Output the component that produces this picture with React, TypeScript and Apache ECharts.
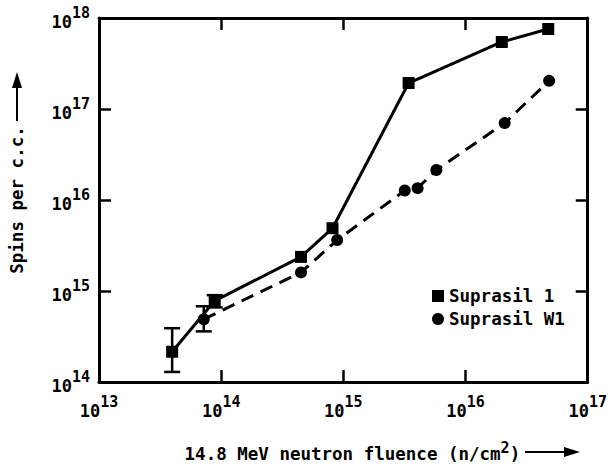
import React, { useEffect, useRef } from "react";
import * as echarts from "echarts";

// Suprasil 1 (squares, solid line)
const s1Fluence = [3.97e13, 8.85e13, 4.5e14, 8.15e14, 3.42e15, 1.98e16, 4.75e16];
const s1Spins = [2.15e14, 7.8e14, 2.37e15, 4.9e15, 1.93e17, 5.45e17, 7.57e17];
// Suprasil W1 (circles, dashed line)
const w1Fluence = [7.2e13, 4.5e14, 8.9e14, 3.18e15, 4.05e15, 5.77e15, 2.09e16, 4.83e16];
const w1Spins = [4.9e14, 1.6e15, 3.63e15, 1.27e16, 1.35e16, 2.14e16, 7.0e16, 2.04e17];
// error bars
const errFluence = [3.97e13, 8.85e13, 7.2e13];
const errLow = [1.29e14, 6.6e14, 3.6e14];
const errHigh = [3.9e14, 9.0e14, 6.8e14];

const seriesNames = ["Suprasil 1", "Suprasil W1"];
const xAxisTitle = "14.8 MeV neutron fluence (n/cm";
const yAxisTitle = "Spins per c.c.";

const FONT = "DejaVu Sans Mono";

export default function App() {
  const ref = useRef<HTMLDivElement>(null);
  useEffect(() => {
    const chart = echarts.init(ref.current!, null, { renderer: "svg" });
    const expLabel = (v: number) => `{b|10}{s|${Math.round(Math.log10(v))}}`;
    const rich = {
      b: { fontFamily: FONT, fontWeight: "bold", fontSize: 17, color: "#000", verticalAlign: "bottom" },
      s: { fontFamily: FONT, fontWeight: "bold", fontSize: 15, color: "#000", verticalAlign: "top", padding: [0, 0, 10, 0] },
    };
    const axisLine = { show: true, lineStyle: { color: "#000", width: 3 } };
    const axisTick = { show: true, inside: true, length: 12, lineStyle: { color: "#000", width: 2.5 } };
    chart.setOption({
      animation: false,
      backgroundColor: "#fff",
      grid: { left: 96, top: 18, right: 20, bottom: 87 },
      legend: {
        orient: "vertical",
        left: 427,
        top: 282,
        itemWidth: 12,
        itemHeight: 12,
        itemGap: 5,
        textStyle: { fontFamily: FONT, fontWeight: "bold", fontSize: 17.5, color: "#000" },
        data: [
          { name: seriesNames[0], icon: "rect" },
          { name: seriesNames[1], icon: "circle" },
        ],
      },
      xAxis: [
        {
          type: "log",
          logBase: 10,
          min: 1e13,
          max: 1e17,
          axisLine,
          axisTick,
          splitLine: { show: false },
          minorTick: { show: false },
          axisLabel: { margin: 12, formatter: expLabel, rich },
          name: `{t|${xAxisTitle}}{u|2}{t|)}`,
          nameLocation: "middle",
          nameGap: 58,
          nameTextStyle: {
            padding: [0, 0, 0, 18],
            rich: {
              t: { fontFamily: FONT, fontWeight: "bold", fontSize: 17.5, color: "#000", verticalAlign: "bottom" },
              u: { fontFamily: FONT, fontWeight: "bold", fontSize: 15, color: "#000", verticalAlign: "top", padding: [0, 0, 8, 0] },
            },
          },
        },
        {
          type: "log",
          logBase: 10,
          min: 1e13,
          max: 1e17,
          position: "top",
          axisLine,
          axisTick,
          axisLabel: { show: false },
          splitLine: { show: false },
        },
      ],
      yAxis: [
        {
          type: "log",
          logBase: 10,
          min: 1e14,
          max: 1e18,
          axisLine,
          axisTick,
          splitLine: { show: false },
          minorTick: { show: false },
          axisLabel: { margin: 9, formatter: expLabel, rich },
          name: yAxisTitle,
          nameLocation: "middle",
          nameGap: 73,
          nameRotate: 90,
          nameTextStyle: { fontFamily: FONT, fontWeight: "bold", fontSize: 17.5, color: "#000" },
        },
        {
          type: "log",
          logBase: 10,
          min: 1e14,
          max: 1e18,
          position: "right",
          axisLine,
          axisTick,
          axisLabel: { show: false },
          splitLine: { show: false },
        },
      ],
      graphic: [
        { type: "line", shape: { x1: 17, y1: 121, x2: 17, y2: 86 }, style: { stroke: "#000", lineWidth: 2 } },
        { type: "polygon", shape: { points: [[12, 88], [17, 72], [22, 88]] }, style: { fill: "#000" } },
        { type: "line", shape: { x1: 525, y1: 452, x2: 566, y2: 452 }, style: { stroke: "#000", lineWidth: 2 } },
        { type: "polygon", shape: { points: [[564, 447], [580, 452], [564, 457]] }, style: { fill: "#000" } },
      ],
      series: [
        {
          name: seriesNames[0],
          type: "line",
          data: s1Fluence.map((x, i) => [x, s1Spins[i]]),
          symbol: "rect",
          symbolSize: 12,
          itemStyle: { color: "#000" },
          lineStyle: { color: "#000", width: 3 },
          z: 3,
        },
        {
          name: seriesNames[1],
          type: "line",
          data: w1Fluence.map((x, i) => [x, w1Spins[i]]),
          symbol: "circle",
          symbolSize: 12,
          itemStyle: { color: "#000" },
          lineStyle: { color: "#000", width: 3, type: [13, 8] },
          z: 3,
        },
        {
          type: "custom",
          data: errFluence.map((x, i) => [x, errLow[i], errHigh[i]]),
          renderItem: (params: any, api: any) => {
            const lo = api.coord([api.value(0), api.value(1)]);
            const hi = api.coord([api.value(0), api.value(2)]);
            const w = 8;
            const st = { stroke: "#000", lineWidth: 2.5 };
            return {
              type: "group",
              children: [
                { type: "line", shape: { x1: lo[0], y1: lo[1], x2: hi[0], y2: hi[1] }, style: st },
                { type: "line", shape: { x1: lo[0] - w, y1: lo[1], x2: lo[0] + w, y2: lo[1] }, style: st },
                { type: "line", shape: { x1: hi[0] - w, y1: hi[1], x2: hi[0] + w, y2: hi[1] }, style: st },
              ],
            };
          },
          z: 2,
        },
      ],
    });
    return () => chart.dispose();
  }, []);
  return <div ref={ref} style={{ position: "absolute", left: 0, top: 0, width: 610, height: 469 }} />;
}
